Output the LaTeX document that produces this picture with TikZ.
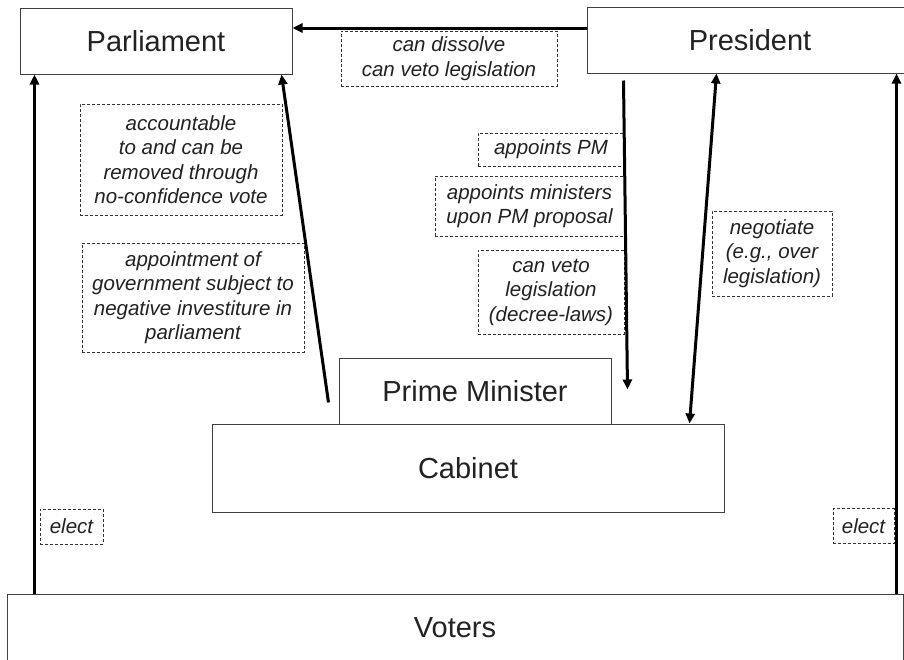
\documentclass[tikz,border=0pt]{standalone}
\usepackage{fontspec}
\setmainfont{Liberation Sans}
\usetikzlibrary{arrows.meta}
\definecolor{txt}{HTML}{222222}
\tikzset{
  box/.style={draw=black!75, line width=1pt, fill=white, inner sep=0pt, text=txt,
    font=\fontsize{29}{34}\selectfont},
  lbl/.style={draw=black!80, line width=0.8pt, dash pattern=on 3pt off 2pt, inner sep=0pt,
    align=center, text=txt, font=\fontsize{20.5}{24.5}\selectfont\itshape},
  arr/.style={line width=3pt, -{Triangle[length=10pt,width=9pt]}},
  darr/.style={line width=3pt, {Triangle[length=10pt,width=9pt]}-{Triangle[length=10pt,width=9pt]}}
}
\begin{document}
\begin{tikzpicture}[x=1pt,y=-1pt]
\clip (0,0) rectangle (904,659);
\fill[white] (0,0) rectangle (904,659);
% main boxes
\node[box, minimum width=272pt, minimum height=66pt] (parl) at (156,41) {Parliament};
\node[box, minimum width=326pt, minimum height=66pt] (pres) at (750,40) {President};
\node[box, minimum width=272pt, minimum height=66pt] (pm) at (475,391) {Prime Minister};
\node[box, minimum width=512pt, minimum height=88pt] (cab) at (468,468) {Cabinet};
\node[box, minimum width=896pt, minimum height=68pt] (voters) at (455,628) {Voters};
% labels
\node[lbl, minimum width=216pt, minimum height=55pt] (dis) at (449,58.5) {can dissolve\\can veto legislation};
\node[lbl, minimum width=202pt, minimum height=111pt] (acc) at (181,159.5) {accountable\\to and can be\\removed through\\no-confidence vote};
\node[lbl, minimum width=222pt, minimum height=109pt] (app) at (193,297.5) {appointment of\\government subject to\\negative investiture in\\parliament};
\node[lbl, minimum width=146pt, minimum height=33pt] (apm) at (551,149.5) {appoints PM};
\node[lbl, minimum width=189pt, minimum height=60pt] (ami) at (529.5,206) {appoints ministers\\upon PM proposal};
\node[lbl, minimum width=146pt, minimum height=84pt] (cvl) at (551,292) {can veto\\legislation\\(decree-laws)};
\node[lbl, minimum width=120pt, minimum height=85pt] (neg) at (772,253.5) {negotiate\\(e.g., over\\legislation)};
\node[lbl, minimum width=63pt, minimum height=35pt] (el1) at (71.5,526.5) {elect};
\node[lbl, minimum width=61pt, minimum height=35pt] (el2) at (863.5,526) {elect};
% connectors
\coordinate (t1) at ([yshift=12pt]pres.west);
\draw[arr] (t1) -- (t1 -| parl.east);
\draw[arr] ([xshift=28pt]voters.north west) -- ([xshift=15pt]parl.south west);
\draw[arr] ([xshift=-10pt,yshift=-45pt]pm.north west) -- ([xshift=-11pt]parl.south east);
\draw[arr] ([xshift=37pt,yshift=-7pt]pres.south west) -- ([xshift=16pt,yshift=-32pt]pm.north east);
\draw[darr] ([xshift=130pt]pres.south west) -- ([xshift=-35pt]cab.north east);
\draw[arr] ([xshift=-7pt]voters.north east) -- ([xshift=-17pt]pres.south east);
\end{tikzpicture}
\end{document}
